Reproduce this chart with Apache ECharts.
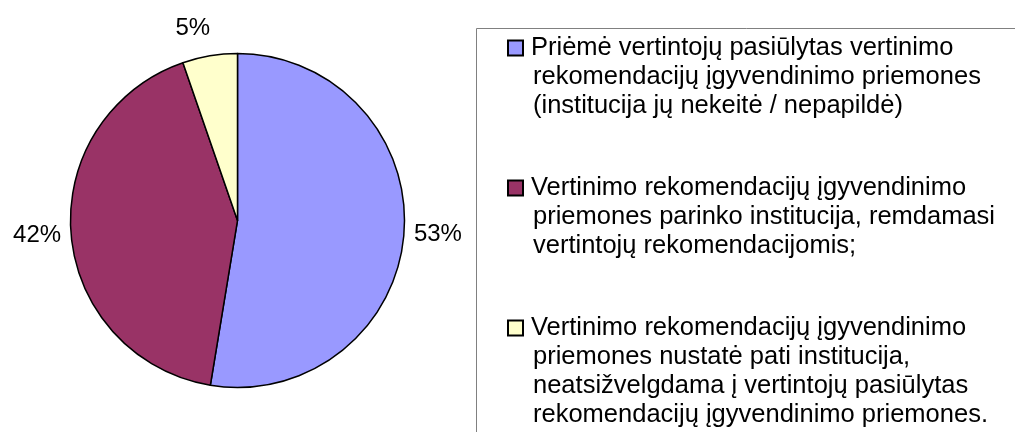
<!DOCTYPE html>
<html>
<head>
<meta charset="UTF-8">
<title>Vertinimo rekomendacijos</title>
<script src="https://cdn.jsdelivr.net/npm/echarts@6/dist/echarts.min.js"></script>
<style>
  html, body {margin: 0; padding: 0; background: #fff;}
  #chart {width: 1015px; height: 432px;}
</style>
</head>
<body>
<div id="chart"></div>
<script>
// duomenys (procentai, nuskaityti nuo diagramos)
var values = [52.6, 42.1, 5.3];
var colors = ['#9999FF', '#993366', '#FFFFCC'];
// legendos tekstas eilutemis
var legendLines = [
  ['Priėmė vertintojų pasiūlytas vertinimo',
   'rekomendacijų įgyvendinimo priemones',
   '(institucija jų nekeitė / nepapildė)'],
  ['Vertinimo rekomendacijų įgyvendinimo',
   'priemones parinko institucija, remdamasi',
   'vertintojų rekomendacijomis;'],
  ['Vertinimo rekomendacijų įgyvendinimo',
   'priemones nustatė pati institucija,',
   'neatsižvelgdama į vertintojų pasiūlytas',
   'rekomendacijų įgyvendinimo priemones.']
];
var names = legendLines.map(function (l) { return l.join(' '); });

var font = "'Liberation Sans', Arial, sans-serif";

var rich = {
  t: {fontSize: 25.5, fontFamily: font, color: '#000', lineHeight: 29},
  g: {width: 9, lineHeight: 29},
  sp: {width: 24, lineHeight: 29}
};
colors.forEach(function (c, i) {
  rich['m' + i] = {width: 13, height: 13, lineHeight: 29, backgroundColor: c, borderColor: '#000', borderWidth: 2};
});

var pieData = values.map(function (v, i) {
  var d = {name: names[i], value: v};
  if (i === 2) {
    d.labelLine = {length: 28, length2: 0};
    d.label = {distanceToLabelLine: -5};
  }
  return d;
});

var chart = echarts.init(document.getElementById('chart'));
var option = {
  animation: false,
  color: colors,
  graphic: [{
    type: 'rect',
    left: 476, top: 28,
    shape: {width: 600, height: 500},
    style: {fill: '#fff', stroke: '#808080', lineWidth: 1},
    z: -1
  }],
  legend: {
    orient: 'vertical',
    left: 504,
    top: 35,
    height: 600,
    padding: 0,
    itemWidth: 0,
    itemHeight: 14,
    itemGap: 56,
    icon: 'none',
    selectedMode: false,
    data: names,
    formatter: function (name) {
      var k = names.indexOf(name);
      return legendLines[k].map(function (line, j) {
        return (j === 0 ? '{m' + k + '| }{g| }' : '{sp| }') + '{t|' + line + '}';
      }).join('\n');
    },
    textStyle: {rich: rich}
  },
  series: [{
    type: 'pie',
    center: [237.5, 220.5],
    radius: 167,
    startAngle: 90,
    clockwise: true,
    avoidLabelOverlap: false,
    itemStyle: {borderColor: '#000', borderWidth: 1.5},
    label: {
      show: true,
      position: 'outside',
      fontSize: 24,
      fontFamily: font,
      color: '#000',
      distanceToLabelLine: 5,
      formatter: function (p) { return Math.round(p.value) + '%'; }
    },
    labelLine: {show: false, length: 5, length2: 0},
    emphasis: {disabled: true},
    data: pieData
  }]
};
chart.setOption(option);
</script>
</body>
</html>
